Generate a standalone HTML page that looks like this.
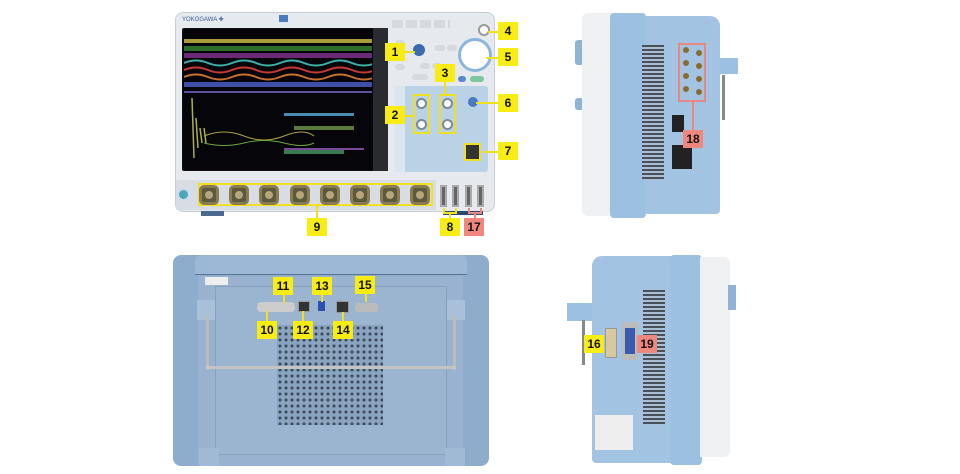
<!DOCTYPE html><html><head><style>
body{margin:0;width:960px;height:474px;background:#fff;position:relative;overflow:hidden;font-family:"Liberation Sans",sans-serif}
div{position:absolute;box-sizing:border-box}
.y{background:#f7ec13;font-weight:bold;font-size:12px;color:#111;text-align:center;line-height:18px;height:18px;width:20px}
.p{background:#f0877f;font-weight:bold;font-size:12px;color:#111;text-align:center;line-height:18px;height:18px;width:20px}
.ln{background:#f0e020}
.pl{background:#e88880}
.bnc{width:20px;height:20px;border-radius:5px;background:#5c5a3c;border:3px solid #8a7c50}
.bnc:after{content:"";position:absolute;left:3px;top:3px;width:8px;height:8px;border-radius:50%;background:#b7a57c}
.v{background:repeating-linear-gradient(#4a5058 0 2px,#a9bfd6 2px 4px)}
.b{background:#d6dadf;border-radius:3px;width:10px;height:6px}
</style></head><body>
<!-- FRONT -->
<div style="left:175px;top:12px;width:320px;height:200px;background:#e6e9ee;border-radius:8px;border:1px solid #c9ced6"></div>
<div style="left:182px;top:16px;width:80px;height:8px;font-size:6px;color:#3a5fa0">YOKOGAWA ✚</div>
<div style="left:279px;top:15px;width:9px;height:7px;background:#4a7bc0"></div>
<div style="left:182px;top:28px;width:206px;height:143px;background:#111;border-radius:2px"></div>
<div style="left:373px;top:28px;width:15px;height:143px;background:#2a2b30"></div>
<div style="left:183px;top:29px;width:190px;height:141px;background:#06060a"></div>
<div style="left:184px;top:39px;width:188px;height:4px;background:#a99b38"></div>
<div style="left:184px;top:46px;width:188px;height:5px;background:#2f6b2a"></div>
<div style="left:184px;top:53px;width:188px;height:5px;background:#6a2a78"></div>
<svg style="position:absolute;left:184px;top:58px" width="188" height="40">
<path d="M0 5 Q12 0 24 5 T48 5 T72 5 T96 5 T120 5 T144 5 T168 5 T192 5" stroke="#3bb0a8" stroke-width="2" fill="none"/>
<path d="M0 12 Q12 7 24 12 T48 12 T72 12 T96 12 T120 12 T144 12 T168 12 T192 12" stroke="#c83a30" stroke-width="2" fill="none"/>
<path d="M0 19 Q12 14 24 19 T48 19 T72 19 T96 19 T120 19 T144 19 T168 19 T192 19" stroke="#c7702a" stroke-width="2" fill="none"/>
<rect x="0" y="24" width="188" height="5" fill="#3e50a8"/>
<rect x="0" y="33" width="188" height="2" fill="#5a4fa0"/>
</svg>
<svg style="position:absolute;left:184px;top:98px" width="188" height="72">
<path d="M8 0 L10 60 M12 20 L14 50 M16 30 L18 45 M20 30 L22 45" stroke="#a8b04a" stroke-width="1.5"/>
<path d="M20 38 Q40 30 60 38 T100 38 T130 38" stroke="#a8a040" fill="none"/>
<path d="M20 45 Q40 50 60 45 T100 45 T130 45" stroke="#6aa840" fill="none"/>
<rect x="100" y="15" width="70" height="3" fill="#4a8ab0"/>
<rect x="110" y="28" width="60" height="4" fill="#5a7a40"/>
<rect x="100" y="50" width="80" height="2" fill="#7a4a9a"/>
<rect x="100" y="52" width="60" height="4" fill="#3a7a50"/>
</svg>
<!-- right controls -->
<div style="left:392px;top:20px;width:58px;height:8px;background:repeating-linear-gradient(90deg,#d5d9df 0 11px,#e6e9ee 11px 14px)"></div>
<div class="b" style="left:395px;top:40px"></div><div class="b" style="left:395px;top:52px"></div><div class="b" style="left:395px;top:64px"></div>
<div class="b" style="left:420px;top:63px"></div><div class="b" style="left:432px;top:63px"></div>
<div class="b" style="left:435px;top:45px"></div><div class="b" style="left:447px;top:45px"></div>
<div class="b" style="left:412px;top:74px;width:16px"></div>
<div style="left:458px;top:76px;width:8px;height:6px;background:#5a8ad0;border-radius:3px"></div>
<div style="left:470px;top:76px;width:14px;height:6px;background:#7ac8a0;border-radius:3px"></div>
<div style="left:413px;top:44px;width:12px;height:12px;border-radius:50%;background:#3a6ab0"></div>
<div style="left:458px;top:38px;width:34px;height:34px;border-radius:50%;background:#fff;border:3px solid #8cb6dc"></div>
<div style="left:478px;top:24px;width:12px;height:12px;border-radius:50%;background:#fff;border:2px solid #999"></div>
<div style="left:395px;top:86px;width:93px;height:86px;background:#b9d2e6;border-radius:3px"></div>
<div style="left:395px;top:86px;width:10px;height:86px;background:#d9e6ef"></div>
<div style="left:413px;top:94px;width:17px;height:40px;border:2px solid #f0e020"></div>
<div style="left:439px;top:94px;width:17px;height:40px;border:2px solid #f0e020"></div>
<div style="left:416px;top:98px;width:11px;height:11px;border-radius:50%;background:#fff;border:2px solid #7a8a99"></div>
<div style="left:416px;top:119px;width:11px;height:11px;border-radius:50%;background:#fff;border:2px solid #7a8a99"></div>
<div style="left:442px;top:98px;width:11px;height:11px;border-radius:50%;background:#fff;border:2px solid #7a8a99"></div>
<div style="left:442px;top:119px;width:11px;height:11px;border-radius:50%;background:#fff;border:2px solid #7a8a99"></div>
<div style="left:468px;top:97px;width:10px;height:10px;border-radius:50%;background:#4a7ac0"></div>
<div style="left:464px;top:143px;width:17px;height:18px;border:2px solid #f0e020;background:#333"></div>
<!-- BNC strip -->
<div style="left:176px;top:180px;width:260px;height:30px;background:#d8dde3"></div>
<div style="left:177px;top:188px;width:13px;height:13px;border-radius:50%;background:#4aa8b8;border:2px solid #cde"></div>
<div style="left:198px;top:183px;width:235px;height:23px;border:2px solid #f0e020"></div>
<div class="bnc" style="left:199px;top:185px"></div><div class="bnc" style="left:229px;top:185px"></div><div class="bnc" style="left:259px;top:185px"></div><div class="bnc" style="left:290px;top:185px"></div><div class="bnc" style="left:320px;top:185px"></div><div class="bnc" style="left:350px;top:185px"></div><div class="bnc" style="left:380px;top:185px"></div><div class="bnc" style="left:410px;top:185px"></div>
<div style="left:440px;top:185px;width:7px;height:22px;background:#666;border:2px solid #aaa"></div>
<div style="left:452px;top:185px;width:7px;height:22px;background:#666;border:2px solid #aaa"></div>
<div style="left:465px;top:185px;width:7px;height:22px;background:#666;border:2px solid #aaa"></div>
<div style="left:477px;top:185px;width:7px;height:22px;background:#666;border:2px solid #aaa"></div>
<div style="left:201px;top:211px;width:23px;height:5px;background:#4a6a90"></div>
<div style="left:443px;top:211px;width:40px;height:4px;background:#2a4a70"></div>
<!-- leaders front -->
<div class="ln" style="left:403px;top:51px;width:12px;height:2px"></div>
<div class="ln" style="left:403px;top:115px;width:12px;height:2px"></div>
<div class="ln" style="left:444px;top:82px;width:2px;height:12px"></div>
<div class="ln" style="left:488px;top:31px;width:10px;height:2px"></div>
<div class="ln" style="left:486px;top:57px;width:12px;height:2px"></div>
<div class="ln" style="left:476px;top:102px;width:22px;height:2px"></div>
<div class="ln" style="left:483px;top:151px;width:15px;height:2px"></div>
<div class="ln" style="left:316px;top:206px;width:2px;height:12px"></div>
<div class="ln" style="left:443px;top:208px;width:2px;height:6px"></div><div class="ln" style="left:455px;top:208px;width:2px;height:6px"></div><div class="ln" style="left:443px;top:212px;width:14px;height:2px"></div><div class="ln" style="left:449px;top:212px;width:2px;height:6px"></div>
<div class="pl" style="left:468px;top:208px;width:2px;height:6px"></div><div class="pl" style="left:480px;top:208px;width:2px;height:6px"></div><div class="pl" style="left:468px;top:212px;width:14px;height:2px"></div><div class="pl" style="left:474px;top:212px;width:2px;height:6px"></div>
<div class="y" style="left:385px;top:43px">1</div>
<div class="y" style="left:385px;top:106px">2</div>
<div class="y" style="left:435px;top:64px">3</div>
<div class="y" style="left:498px;top:22px">4</div>
<div class="y" style="left:498px;top:48px">5</div>
<div class="y" style="left:498px;top:94px">6</div>
<div class="y" style="left:498px;top:142px">7</div>
<div class="y" style="left:307px;top:218px">9</div>
<div class="y" style="left:440px;top:218px">8</div>
<div class="p" style="left:464px;top:218px">17</div>
<!-- REAR -->
<div style="left:173px;top:255px;width:316px;height:211px;background:#8eaccc;border-radius:8px"></div>
<div style="left:195px;top:255px;width:272px;height:20px;background:#9cb8d6;border-radius:5px 5px 0 0;border-bottom:1px solid #5a7592"></div>
<div style="left:198px;top:276px;width:265px;height:190px;background:#98b2cf"></div>
<div style="left:215px;top:286px;width:232px;height:169px;background:#9bb4d0;border:1px solid #86a0be"></div>
<div style="left:205px;top:277px;width:23px;height:8px;background:#eee"></div>
<div style="left:257px;top:302px;width:38px;height:10px;background:#ccc;border-radius:4px"></div>
<div style="left:298px;top:301px;width:12px;height:11px;background:#333;border:1px solid #999"></div>
<div style="left:318px;top:301px;width:7px;height:10px;background:#2a50b0"></div>
<div style="left:336px;top:301px;width:13px;height:12px;background:#333;border:1px solid #999"></div>
<div style="left:355px;top:303px;width:23px;height:9px;background:#bbb;border-radius:3px"></div>
<div style="left:277px;top:325px;width:106px;height:100px;background:radial-gradient(circle,#3a4a5a 1.4px,transparent 1.6px) 0 0/6px 6px,#8aa4c0"></div>
<div style="left:197px;top:300px;width:18px;height:20px;background:#a9c0d9"></div>
<div style="left:447px;top:300px;width:18px;height:20px;background:#a9c0d9"></div>
<div style="left:206px;top:315px;width:3px;height:55px;background:#bbb"></div>
<div style="left:453px;top:315px;width:3px;height:55px;background:#bbb"></div>
<div style="left:206px;top:366px;width:250px;height:3px;background:#c4c4c4"></div>
<div style="left:199px;top:448px;width:20px;height:18px;background:#a0b9d4"></div>
<div style="left:445px;top:448px;width:20px;height:18px;background:#a0b9d4"></div>
<div class="ln" style="left:283px;top:295px;width:2px;height:8px"></div>
<div class="ln" style="left:321px;top:295px;width:2px;height:7px"></div>
<div class="ln" style="left:365px;top:293px;width:2px;height:9px"></div>
<div class="ln" style="left:266px;top:311px;width:2px;height:10px"></div>
<div class="ln" style="left:302px;top:311px;width:2px;height:10px"></div>
<div class="ln" style="left:342px;top:312px;width:2px;height:9px"></div>
<div class="y" style="left:273px;top:277px">11</div>
<div class="y" style="left:312px;top:277px">13</div>
<div class="y" style="left:355px;top:276px">15</div>
<div class="y" style="left:257px;top:321px">10</div>
<div class="y" style="left:293px;top:321px">12</div>
<div class="y" style="left:333px;top:321px">14</div>
<!-- SIDE TOP -->
<div style="left:575px;top:40px;width:10px;height:25px;background:#8eb3d5;border-radius:3px"></div>
<div style="left:575px;top:98px;width:9px;height:12px;background:#8eb3d5;border-radius:3px"></div>
<div style="left:582px;top:13px;width:30px;height:203px;background:#eef0f2;border-radius:6px 0 0 6px"></div>
<div style="left:610px;top:13px;width:36px;height:205px;background:#9cc0e0;border-radius:4px"></div>
<div style="left:645px;top:16px;width:75px;height:198px;background:#a2c4e2;border-radius:0 10px 4px 0"></div>
<div class="v" style="left:642px;top:45px;width:22px;height:135px"></div>
<div style="left:720px;top:58px;width:18px;height:16px;background:#9cc0e0"></div>
<div style="left:722px;top:75px;width:3px;height:45px;background:#888"></div>
<div style="left:678px;top:43px;width:28px;height:59px;border:2px solid #e88880"></div>
<div style="left:683px;top:47px;width:6px;height:6px;border-radius:50%;background:#8a6a30;box-shadow:0 13px #8a6a30,0 26px #8a6a30,0 39px #8a6a30,13px 3px #8a6a30,13px 16px #8a6a30,13px 29px #8a6a30,13px 42px #8a6a30"></div>
<div style="left:672px;top:115px;width:12px;height:17px;background:#222"></div>
<div style="left:672px;top:145px;width:20px;height:24px;background:#222"></div>
<div class="pl" style="left:692px;top:102px;width:2px;height:28px"></div>
<div class="p" style="left:683px;top:130px">18</div>
<!-- SIDE BOTTOM -->
<div style="left:592px;top:256px;width:80px;height:207px;background:#a2c4e2;border-radius:10px 0 0 4px"></div>
<div style="left:670px;top:255px;width:32px;height:210px;background:#9cc0e0;border-radius:4px"></div>
<div style="left:700px;top:257px;width:30px;height:200px;background:#eef0f2;border-radius:0 6px 6px 0"></div>
<div style="left:728px;top:285px;width:8px;height:25px;background:#8eb3d5"></div>
<div class="v" style="left:643px;top:290px;width:22px;height:135px"></div>
<div style="left:567px;top:303px;width:25px;height:18px;background:#9cc0e0"></div>
<div style="left:582px;top:320px;width:3px;height:45px;background:#888"></div>
<div style="left:605px;top:328px;width:12px;height:30px;background:#d8c8a0;border:1px solid #999"></div>
<div style="left:622px;top:322px;width:16px;height:38px;background:#bbb"></div>
<div style="left:625px;top:328px;width:10px;height:26px;background:#3a5ab0"></div>
<div style="left:595px;top:415px;width:38px;height:35px;background:#eee"></div>
<div class="y" style="left:584px;top:335px">16</div>
<div class="p" style="left:637px;top:335px">19</div>
</body></html>
